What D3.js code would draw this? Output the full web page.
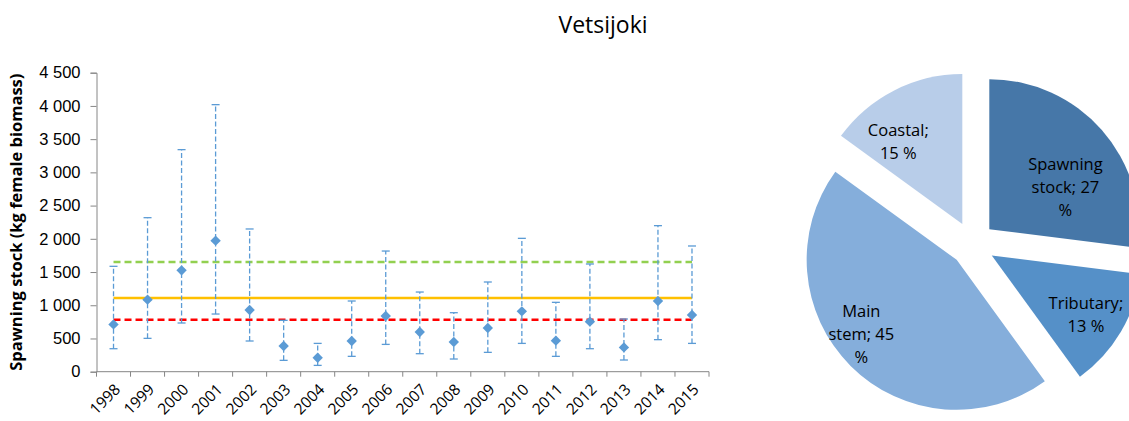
<!DOCTYPE html>
<html>
<head>
<meta charset="utf-8">
<script src="https://cdn.jsdelivr.net/npm/d3@7"></script>
<style>
  body { margin: 0; background: #fff; }
  svg { font-family: "Open Sans", "DejaVu Sans", sans-serif; }
</style>
</head>
<body>
<svg id="chart" width="1129" height="421"></svg>
<script>
// yearly spawning stock estimates (kg female biomass)
const years = ['1998', '1999', '2000', '2001', '2002', '2003', '2004', '2005', '2006',
  '2007', '2008', '2009', '2010', '2011', '2012', '2013', '2014', '2015'];
const stock = [712, 1084, 1525, 1972, 928, 386, 211, 462, 838, 597, 447, 657, 908, 467, 753, 366, 1064, 853];
const stockLow = [346, 502, 733, 868, 462, 171, 95, 231, 411, 271, 191, 291, 426, 231, 346, 176, 482, 426];
const stockHigh = [1586, 2318, 3342, 4019, 2148, 773, 426, 1064, 1816, 1199, 888, 1350, 2007, 1044, 1621, 793, 2198, 1892];
const yTicks = [0, 500, 1000, 1500, 2000, 2500, 3000, 3500, 4000, 4500];

// reference levels
const refValues = [1650, 1110, 780];
const refColors = ['#92d050', '#ffc000', '#ff0000'];
const refDash = ['7,4', null, '7,4'];

// pie: share of stock by habitat, clockwise from 12 o'clock
const pieNames = ['Spawning stock', 'Tributary', 'Main stem', 'Coastal'];
const pieValues = [27, 13, 45, 15];
const pieColors = ['#4677a8', '#5590c8', '#85aedb', '#b8cde9'];
const pieLabelLines = [['Spawning', 'stock; 27', '%'], ['Tributary;', '13 %'], ['Main', 'stem; 45', '%'], ['Coastal;', '15 %']];

const svg = d3.select('#chart');

// title
svg.append('text')
  .attr('x', 603).attr('y', 33)
  .attr('text-anchor', 'middle')
  .style('font-size', '23px')
  .style('fill', '#000')
  .text('Vetsijoki');

// ---------- scatter with error bars ----------
const plot = { left: 96.5, right: 709, top: 72.7, bottom: 371.7 };

const xScale = d3.scaleBand().domain(years).range([plot.left, plot.right]).padding(0);
const yScale = d3.scaleLinear().domain([0, 4500]).range([plot.bottom, plot.top]);
const cx = (i) => xScale(years[i]) + xScale.bandwidth() / 2;

// y axis
const yAxis = svg.append('g')
  .attr('transform', `translate(${plot.left},0)`)
  .call(d3.axisLeft(yScale).tickValues(yTicks).tickSize(6).tickPadding(10)
    .tickFormat((d) => d3.format(',')(d).replace(',', '\u00a0')));
yAxis.select('.domain').attr('stroke', '#868686');
yAxis.selectAll('.tick line').attr('stroke', '#868686');
yAxis.selectAll('.tick text').style('font-size', '16.5px').style('fill', '#000');

// x axis line and boundary ticks
svg.append('line')
  .attr('x1', plot.left).attr('x2', plot.right)
  .attr('y1', plot.bottom).attr('y2', plot.bottom)
  .attr('stroke', '#868686');
svg.append('g').selectAll('line')
  .data(years.map((y) => xScale(y)).concat([plot.right]))
  .join('line')
  .attr('x1', (d) => d).attr('x2', (d) => d)
  .attr('y1', plot.bottom).attr('y2', plot.bottom + 5)
  .attr('stroke', '#868686');

// x labels rotated
svg.append('g').selectAll('text')
  .data(years)
  .join('text')
  .attr('transform', (d, i) => `translate(${cx(i) + 4},${plot.bottom + 15}) rotate(-45)`)
  .attr('text-anchor', 'end')
  .attr('dy', '0.35em')
  .style('font-size', '15.5px')
  .style('fill', '#000')
  .text((d) => d);

// y axis title
svg.append('text')
  .attr('transform', `translate(22,${(plot.top + plot.bottom) / 2}) rotate(-90)`)
  .attr('text-anchor', 'middle')
  .style('font-size', '16.5px')
  .style('font-weight', 'bold')
  .style('fill', '#000')
  .text('Spawning stock (kg female biomass)');

// reference lines, from first to last year centre
svg.append('g').selectAll('line')
  .data(refValues)
  .join('line')
  .attr('x1', cx(0)).attr('x2', cx(years.length - 1))
  .attr('y1', (d) => yScale(d)).attr('y2', (d) => yScale(d))
  .attr('stroke', (d, i) => refColors[i])
  .attr('stroke-width', 2.5)
  .attr('stroke-dasharray', (d, i) => refDash[i]);

// error bars
const err = svg.append('g').attr('class', 'errors');
err.selectAll('line.bar')
  .data(years)
  .join('line')
  .attr('class', 'bar')
  .attr('x1', (d, i) => cx(i)).attr('x2', (d, i) => cx(i))
  .attr('y1', (d, i) => yScale(stockLow[i])).attr('y2', (d, i) => yScale(stockHigh[i]))
  .attr('stroke', '#5b9bd5')
  .attr('stroke-width', 1.3)
  .attr('stroke-dasharray', '5,2.5');
['low', 'high'].forEach((k) => {
  const src = k === 'low' ? stockLow : stockHigh;
  err.selectAll('line.cap-' + k)
    .data(years)
    .join('line')
    .attr('class', 'cap-' + k)
    .attr('x1', (d, i) => cx(i) - 4).attr('x2', (d, i) => cx(i) + 4)
    .attr('y1', (d, i) => yScale(src[i])).attr('y2', (d, i) => yScale(src[i]))
    .attr('stroke', '#5b9bd5')
    .attr('stroke-width', 1.3);
});

// diamond markers
svg.append('g').selectAll('path')
  .data(stock)
  .join('path')
  .attr('d', d3.symbol(d3.symbolSquare, 54))
  .attr('transform', (d, i) => `translate(${cx(i)},${yScale(d)}) rotate(45)`)
  .attr('fill', '#5b9bd5');

// ---------- exploded pie ----------
const pieCenter = [972.5, 244];
const radius = 150;
const explode = 22.4;
// label placement, polar from each slice's tip: [distance, angle in degrees]
const labelPolar = [[87, 61], [111, 122], [121, 232], [104, 322]];

const pie = d3.pie().sort(null).value((d) => d)(pieValues);
const arc = d3.arc().innerRadius(0).outerRadius(radius);

const slices = svg.append('g')
  .attr('transform', `translate(${pieCenter[0]},${pieCenter[1]})`)
  .selectAll('g')
  .data(pie)
  .join('g')
  .attr('transform', (d) => {
    const a = (d.startAngle + d.endAngle) / 2;
    return `translate(${explode * Math.sin(a)},${-explode * Math.cos(a)})`;
  });

slices.append('path')
  .attr('d', arc)
  .attr('fill', (d, i) => pieColors[i]);

slices.append('text')
  .attr('transform', (d, i) => {
    const [r, deg] = labelPolar[i];
    const a = deg * Math.PI / 180;
    return `translate(${r * Math.sin(a)},${-r * Math.cos(a)})`;
  })
  .attr('text-anchor', 'middle')
  .style('font-size', '16.5px')
  .style('fill', '#000')
  .each(function (d, i) {
    const lines = pieLabelLines[i];
    const lh = 23;
    d3.select(this).selectAll('tspan')
      .data(lines)
      .join('tspan')
      .attr('x', 0)
      .attr('y', (l, j) => (j - (lines.length - 1) / 2) * lh)
      .attr('dy', '0.35em')
      .text((l) => l);
  });
</script>
</body>
</html>
